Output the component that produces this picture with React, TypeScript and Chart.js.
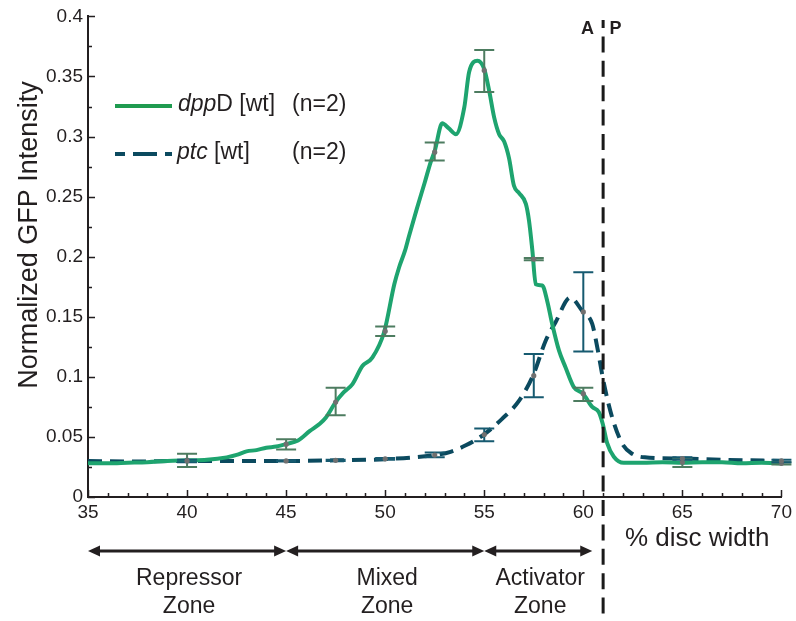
import React, { useEffect, useRef } from "react";
import { Chart, registerables } from "chart.js";

Chart.register(...registerables);

const FONT = '"Liberation Sans", Arial, Helvetica, sans-serif';
const INK = "#231f20";
const GREEN = "#1ea46f";
const GREEN_LEGEND = "#1f9b50";
const BLUE = "#0b4a5f";
const GREEN_ERR = "#4d7c60";
const BLUE_ERR = "#165a70";
const DOT = "#707070";

// dppD [wt] profile
const greenX = [35, 36, 37, 38, 39, 40, 41, 42, 42.5, 43, 43.5, 44, 44.5, 45, 45.6, 46.2, 46.7, 47.0, 47.5, 47.9, 48.35, 48.85, 49.35, 49.96, 50.46, 50.7, 51.0, 51.2, 51.6, 52.0, 52.3, 52.5, 52.88, 53.2, 53.57, 53.99, 54.24, 54.66, 55.0, 55.25, 55.5, 55.75, 56.0, 56.25, 56.5, 56.76, 57.1, 57.26, 57.43, 57.6, 57.93, 58.18, 58.43, 58.77, 59.1, 59.52, 59.98, 60.45, 60.78, 60.98, 61.2, 61.54, 62.04, 63, 64, 65, 66, 67, 68, 69, 70];
const greenY = [0.028, 0.028, 0.0285, 0.029, 0.030, 0.0305, 0.031, 0.033, 0.035, 0.038, 0.039, 0.041, 0.042, 0.044, 0.047, 0.055, 0.061, 0.066, 0.079, 0.087, 0.094, 0.109, 0.116, 0.138, 0.177, 0.191, 0.205, 0.217, 0.240, 0.262, 0.279, 0.288, 0.311, 0.307, 0.302, 0.324, 0.354, 0.363, 0.356, 0.338, 0.316, 0.302, 0.296, 0.282, 0.259, 0.253, 0.244, 0.230, 0.205, 0.177, 0.176, 0.163, 0.144, 0.122, 0.108, 0.0915, 0.086, 0.075, 0.0708, 0.061, 0.045, 0.0335, 0.0285, 0.0285, 0.029, 0.0285, 0.029, 0.029, 0.028, 0.0285, 0.028];

// ptc [wt] profile
const blueX = [35, 37, 40, 42, 45, 47.5, 50, 52.5, 53.3, 54.07, 54.98, 55.9, 56.75, 57.46, 58.1, 58.6, 59.35, 59.94, 60.45, 60.7, 61.04, 61.45, 61.96, 62.46, 63.1, 65, 67, 70];
const blueY = [0.030, 0.0295, 0.030, 0.030, 0.030, 0.0305, 0.0315, 0.0349, 0.0376, 0.043, 0.052, 0.065, 0.080, 0.101, 0.130, 0.1455, 0.166, 0.155, 0.144, 0.125, 0.0945, 0.0666, 0.0445, 0.036, 0.033, 0.032, 0.031, 0.030];

// error bars (mean, low, high)
const errX = [40, 45, 47.5, 50, 52.5, 55, 57.5, 60, 65, 70];
const greenMean = [0.0307, 0.044, 0.079, 0.138, 0.287, 0.355, 0.198, 0.086, 0.029, 0.028];
const greenLow = [0.025, 0.0396, 0.068, 0.134, 0.280, 0.337, 0.197, 0.080, 0.025, 0.027];
const greenHigh = [0.036, 0.048, 0.091, 0.142, 0.295, 0.372, 0.199, 0.091, 0.032, 0.029];
const blueMean = [0.030, 0.030, 0.0305, 0.0318, 0.0349, 0.052, 0.101, 0.154, 0.032, 0.030];
const blueLow = [0.029, 0.0295, 0.030, 0.031, 0.033, 0.0465, 0.083, 0.121, 0.031, 0.029];
const blueHigh = [0.031, 0.0305, 0.031, 0.0325, 0.037, 0.057, 0.119, 0.187, 0.033, 0.031];

const yTickLabels = ["0", "0.05", "0.1", "0.15", "0.2", "0.25", "0.3", "0.35", "0.4"];

const zoneTop = ["Repressor", "Mixed", "Activator"];
const zoneStart = [35, 45, 55];
const zoneEnd = [45, 55, 60.45];
const boundaryX = 61;

function drawArrowHead(ctx: CanvasRenderingContext2D, x: number, y: number, dir: number) {
  ctx.beginPath();
  ctx.moveTo(x, y);
  ctx.lineTo(x - dir * 12, y - 5.5);
  ctx.lineTo(x - dir * 12, y + 5.5);
  ctx.closePath();
  ctx.fill();
}

const overlay = {
  id: "overlay",
  afterDatasetsDraw(chart: any) {
    const ctx: CanvasRenderingContext2D = chart.ctx;
    const xs = chart.scales.x;
    const ys = chart.scales.y;
    const bars = (means: number[], lows: number[], highs: number[], color: string) => {
      ctx.save();
      ctx.strokeStyle = color;
      ctx.lineWidth = 2;
      ctx.setLineDash([]);
      errX.forEach((xv, i) => {
        const px = xs.getPixelForValue(xv);
        const pl = ys.getPixelForValue(lows[i]);
        const ph = ys.getPixelForValue(highs[i]);
        ctx.beginPath();
        ctx.moveTo(px, pl);
        ctx.lineTo(px, ph);
        ctx.moveTo(px - 10, pl);
        ctx.lineTo(px + 10, pl);
        ctx.moveTo(px - 10, ph);
        ctx.lineTo(px + 10, ph);
        ctx.stroke();
      });
      ctx.fillStyle = DOT;
      errX.forEach((xv, i) => {
        ctx.beginPath();
        ctx.arc(xs.getPixelForValue(xv), ys.getPixelForValue(means[i]), 2.6, 0, Math.PI * 2);
        ctx.fill();
      });
      ctx.restore();
    };
    bars(greenMean, greenLow, greenHigh, GREEN_ERR);
    bars(blueMean, blueLow, blueHigh, BLUE_ERR);
  },
  afterDraw(chart: any) {
    const ctx: CanvasRenderingContext2D = chart.ctx;
    const xs = chart.scales.x;
    const ys = chart.scales.y;
    const area = chart.chartArea;
    ctx.save();
    // inward ticks
    ctx.strokeStyle = INK;
    ctx.lineWidth = 1.5;
    ctx.beginPath();
    for (let v = 35; v <= 70; v++) {
      const px = Math.round(xs.getPixelForValue(v)) + 0.5;
      const len = v % 5 === 0 ? 7 : 4;
      ctx.moveTo(px, area.bottom);
      ctx.lineTo(px, area.bottom - len);
    }
    for (let i = 0; i <= 16; i++) {
      const py = Math.round(ys.getPixelForValue(i * 0.025)) + 0.5;
      const len = i % 2 === 0 ? 7 : 4;
      ctx.moveTo(area.left, py);
      ctx.lineTo(area.left + len, py);
    }
    ctx.stroke();

    // A/P boundary
    const bx = xs.getPixelForValue(boundaryX);
    ctx.strokeStyle = "#1a1a1a";
    ctx.lineWidth = 3;
    ctx.setLineDash([16, 8.4]);
    ctx.lineDashOffset = 8;
    ctx.beginPath();
    ctx.moveTo(bx, 20);
    ctx.lineTo(bx, chart.height);
    ctx.stroke();
    ctx.setLineDash([]);
    ctx.lineDashOffset = 0;

    ctx.fillStyle = INK;
    ctx.font = `bold 18px ${FONT}`;
    ctx.textAlign = "center";
    ctx.textBaseline = "middle";
    ctx.fillText("A", bx - 15.5, 29);
    ctx.fillText("P", bx + 12.5, 29);

    // y title
    ctx.save();
    ctx.translate(30, 235);
    ctx.rotate(-Math.PI / 2);
    ctx.font = `27px ${FONT}`;
    ctx.fillText("Normalized GFP Intensity", 0, 0);
    ctx.restore();

    // x title
    ctx.font = `26px ${FONT}`;
    ctx.textAlign = "left";
    ctx.fillText("% disc width", 625, 539);

    // zones
    const ay = 551;
    ctx.strokeStyle = INK;
    ctx.lineWidth = 3;
    zoneStart.forEach((s, i) => {
      const x0 = xs.getPixelForValue(s);
      const x1 = xs.getPixelForValue(zoneEnd[i]);
      ctx.beginPath();
      ctx.moveTo(x0 + 8, ay);
      ctx.lineTo(x1 - 8, ay);
      ctx.stroke();
      drawArrowHead(ctx, x0, ay, -1);
      drawArrowHead(ctx, x1, ay, 1);
      const cx = (x0 + x1) / 2 + 2;
      ctx.font = `23px ${FONT}`;
      ctx.textAlign = "center";
      ctx.fillText(zoneTop[i], cx, 579);
      ctx.fillText("Zone", cx, 607);
    });

    // legend
    ctx.textAlign = "left";
    ctx.lineWidth = 4;
    ctx.strokeStyle = GREEN_LEGEND;
    ctx.beginPath();
    ctx.moveTo(115, 106);
    ctx.lineTo(172, 106);
    ctx.stroke();
    ctx.strokeStyle = BLUE;
    ctx.setLineDash([24, 8]);
    ctx.lineDashOffset = 14;
    ctx.beginPath();
    ctx.moveTo(115, 154);
    ctx.lineTo(172, 154);
    ctx.stroke();
    ctx.setLineDash([]);
    ctx.lineDashOffset = 0;

    ctx.font = `italic 23px ${FONT}`;
    ctx.fillText("dpp", 178, 105);
    let w = ctx.measureText("dpp").width;
    ctx.font = `23px ${FONT}`;
    ctx.fillText("D [wt]", 178 + w, 105);
    ctx.fillText("(n=2)", 292, 105);
    ctx.font = `italic 23px ${FONT}`;
    ctx.fillText("ptc", 177, 153);
    w = ctx.measureText("ptc ").width;
    ctx.font = `23px ${FONT}`;
    ctx.fillText("[wt]", 177 + w, 153);
    ctx.fillText("(n=2)", 292, 153);
    ctx.restore();
  },
};

export default function App() {
  const ref = useRef<HTMLCanvasElement | null>(null);
  useEffect(() => {
    if (!ref.current) return;
    const chart = new Chart(ref.current, {
      type: "line",
      data: {
        datasets: [
          {
            label: "dppD [wt]",
            data: greenX.map((x, i) => ({ x, y: greenY[i] })),
            borderColor: GREEN,
            borderWidth: 4,
            pointRadius: 0,
            cubicInterpolationMode: "monotone",
            fill: false,
          },
          {
            label: "ptc [wt]",
            data: blueX.map((x, i) => ({ x, y: blueY[i] })),
            borderColor: BLUE,
            borderWidth: 4,
            borderDash: [14, 8],
            pointRadius: 0,
            cubicInterpolationMode: "monotone",
            fill: false,
          },
        ],
      },
      options: {
        animation: false,
        responsive: false,
        devicePixelRatio: 1,
        layout: { padding: { left: 0, top: 15, right: 13, bottom: 0 } },
        plugins: { legend: { display: false }, tooltip: { enabled: false } },
        scales: {
          x: {
            type: "linear",
            min: 35,
            max: 70,
            grid: { display: false, drawTicks: false, tickLength: 0 },
            border: { display: true, color: INK, width: 2 },
            ticks: {
              stepSize: 5,
              padding: 4,
              color: INK,
              font: { family: FONT, size: 19 },
              maxRotation: 0,
            },
            afterFit: (s: any) => {
              s.height = 124;
            },
          },
          y: {
            type: "linear",
            min: 0,
            max: 0.4,
            grid: { display: false, drawTicks: false, tickLength: 0 },
            border: { display: true, color: INK, width: 2 },
            ticks: {
              stepSize: 0.05,
              padding: 5,
              color: INK,
              font: { family: FONT, size: 19 },
              callback: (_v: any, i: number) => yTickLabels[i],
            },
            afterFit: (s: any) => {
              s.width = 88;
            },
          },
        },
      },
      plugins: [overlay],
    } as any);
    return () => chart.destroy();
  }, []);
  return (
    <div style={{ position: "absolute", left: 0, top: 0, width: 796, height: 621, background: "#fff" }}>
      <canvas ref={ref} width={796} height={621} style={{ display: "block" }} />
    </div>
  );
}
